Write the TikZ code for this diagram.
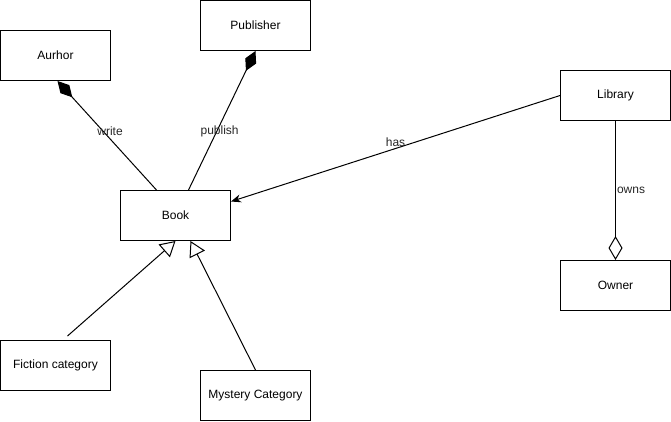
\documentclass[tikz,border=0pt]{standalone}
\usepackage{fontspec}
\setmainfont{Liberation Sans}
\usetikzlibrary{arrows.meta}

\begin{document}
\begin{tikzpicture}[
        x=1pt, y=-1pt,
        line width=1pt,
        box/.style={draw, fill=white, align=center, font=\fontsize{12}{14}\selectfont,
            minimum width=110pt, minimum height=50pt, inner sep=0pt},
        lbl/.style={font=\fontsize{12}{14}\selectfont, inner sep=1pt, text=black!85},
        comp/.style={{Diamond[length=22pt, width=12pt]}-},
        aggr/.style={-{Diamond[open, length=24pt, width=14pt]}},
        inh/.style={-{Triangle[open, length=15pt, width=17pt]}},
        arr/.style={-{Stealth[length=10pt, width=8pt]}}
    ]
        \useasboundingbox (0,0) rectangle (671,421);
        \node[box] (aut) at (55.5,55.5) {Aurhor};
        \node[box] (pub) at (255.5,25.5) {Publisher};
        \node[box] (book) at (175.5,215.5) {Book};
        \node[box] (lib) at (615.5,95.5) {Library};
        \node[box] (own) at (615.5,285.5) {Owner};
        \node[box] (fic) at (55.5,365.5) {Fiction category};
        \node[box] (mys) at (255.5,395.5) {Mystery Category};
        \draw[comp] ([xshift=2pt]aut.south) -- node[lbl, pos=0.46, xshift=7pt] {write} ([xshift=-19pt]book.north);
        \draw[comp] (pub.south) -- node[lbl, pos=0.58, xshift=3pt] {publish} ([xshift=13pt]book.north);
        \draw[arr] (lib.west) -- node[lbl, midway, above] {has} ([yshift=14pt]book.east);
        \draw[aggr] (lib.south) -- node[lbl, midway, right] {owns} (own.north);
        \draw[inh] ([xshift=12pt, yshift=4pt]fic.north) -- (book.south);
        \draw[inh] (mys.north) -- ([xshift=15pt]book.south);
    \end{tikzpicture}
\end{document}
